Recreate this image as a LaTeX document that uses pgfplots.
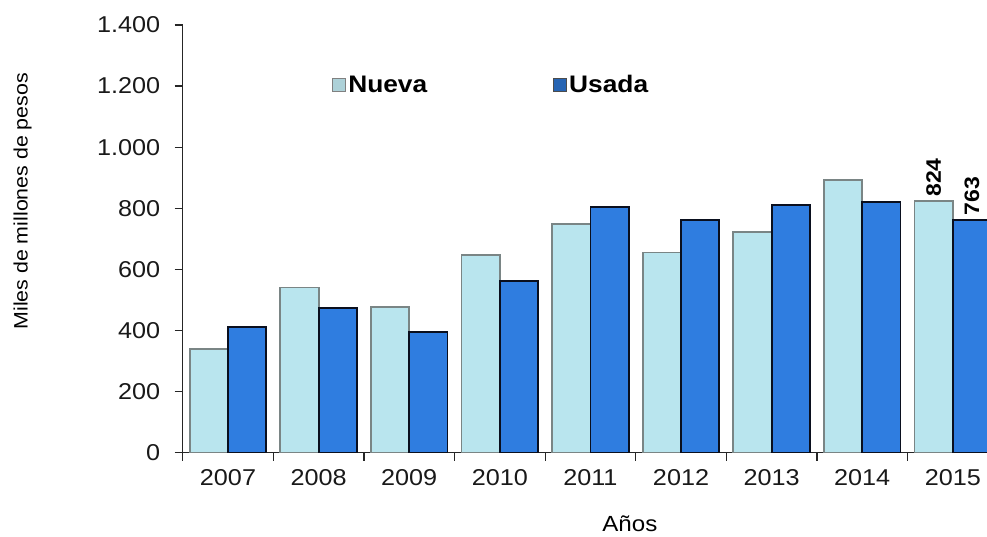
\documentclass[border=0pt]{standalone}
\usepackage{fontspec}
\setmainfont{Liberation Sans}[FakeStretch=1.1]
\usepackage{pgfplots}
\pgfplotsset{compat=1.18}
\definecolor{nuevaFill}{HTML}{B9E5EE}
\definecolor{nuevaLine}{HTML}{7A8585}
\definecolor{usadaFill}{HTML}{2F7DE0}
\definecolor{usadaLine}{HTML}{0A0F1E}
\begin{document}
\begin{tikzpicture}
\begin{axis}[
  at={(0bp,0bp)}, anchor=south west,
  scale only axis,
  width=804.3bp, height=427.7bp,
  ybar=0pt, bar width=38.3bp,
  xmin=-0.5, xmax=8.377,
  ymin=0, ymax=1400,
  ytick={0,200,...,1400},
  xtick={0,...,8},
  xticklabels={2007,2008,2009,2010,2011,2012,2013,2014,2015},
  axis x line=bottom, axis y line=left,
  axis line style={-, black!85, line width=1.2bp},
  tick align=outside,
  major tick length=8bp,
  ytick style={black!85, line width=1.2bp},
  xtick style={draw=none},
  extra x ticks={-0.5,0.5,...,7.5},
  extra x tick labels={},
  extra x tick style={xtick style={draw=black!85, line width=1.2bp}},
  /pgf/number format/assume math mode=true,
  /pgf/number format/1000 sep={.},
  ticklabel style={font=\fontsize{23}{25}\selectfont, text=black!90},
  yticklabel style={xshift=-11bp},
  xticklabel style={yshift=-5bp},
  ylabel={Miles de millones de pesos},
  ylabel style={at={(axis description cs:-0.199,0.588)}, anchor=center, font=\fontsize{19.5}{22}\selectfont},
  xlabel={Años},
  xlabel style={at={(axis description cs:0.556,-0.166)}, anchor=center, font=\fontsize{22}{24}\selectfont},
  legend style={at={(axis description cs:0.182,0.86)}, anchor=west, draw=none, fill=none,
    font=\fontsize{24}{26}\selectfont\bfseries, legend columns=2,
    /tikz/every even column/.append style={column sep=124bp}},
  visualization depends on={x \as \myx},
  nodes near coords={\pgfmathtruncatemacro\showlab{\myx>7.5}\ifnum\showlab=1 \pgfmathprintnumber{\pgfplotspointmeta}\fi},
  nodes near coords style={rotate=90, anchor=west, font=\fontsize{21}{23}\selectfont\bfseries, /pgf/number format/1000 sep={}},
]
\addplot[draw=nuevaLine, line width=1.8bp, fill=nuevaFill,
  legend image code/.code={\filldraw[draw=gray, fill=nuevaFill!80!gray, line width=1bp] (0bp,-6.5bp) rectangle (13bp,6.5bp);}]
  coordinates {(0,339) (1,541) (2,478) (3,647) (4,749) (5,655) (6,723) (7,893) (8,824)};
\addplot[draw=usadaLine, line width=1.8bp, fill=usadaFill,
  legend image code/.code={\filldraw[draw=black!70, fill=usadaFill!80!black, line width=1bp] (0bp,-6.5bp) rectangle (13bp,6.5bp);}]
  coordinates {(0,412) (1,473) (2,394) (3,563) (4,805) (5,761) (6,811) (7,821) (8,763)};
\legend{Nueva,Usada}
\end{axis}
\pgfresetboundingbox
\path[use as bounding box] (-182.7bp,-84.3bp) rectangle (804.3bp,452.7bp);
\end{tikzpicture}
\end{document}
